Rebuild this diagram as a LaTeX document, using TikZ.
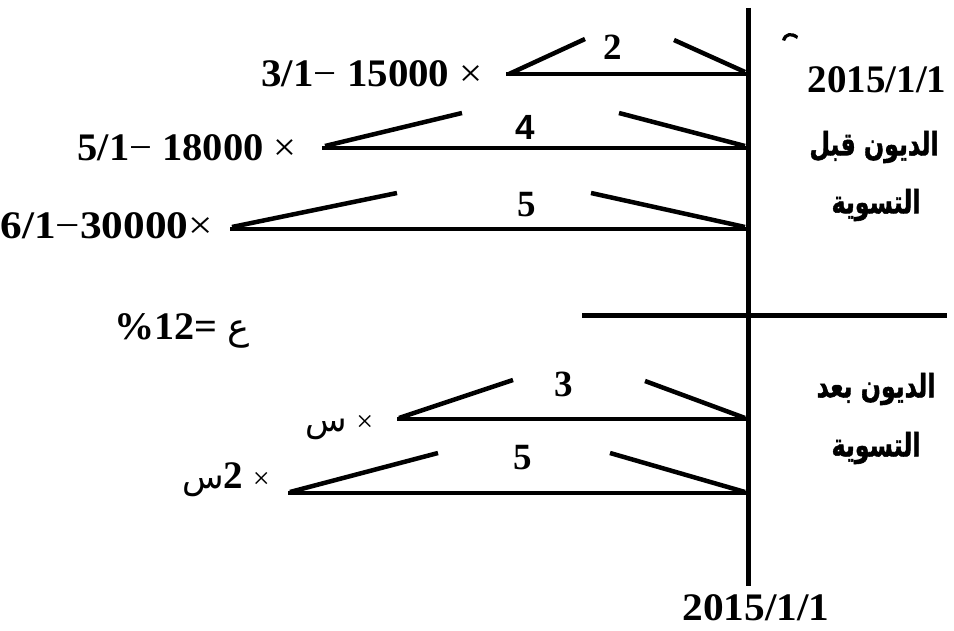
\documentclass[tikz,border=0pt]{standalone}
\usepackage{fontspec}
\setmainfont{Liberation Serif}
\newfontfamily\sansbf{Liberation Sans}
\newfontfamily\arabicfont[Script=Arabic]{DejaVu Sans}
\newfontfamily\arabicheavy[Script=Arabic, FakeBold=1.6]{DejaVu Sans Bold}
\TeXXeTstate=1
\newcommand{\arcap}[1]{\scalebox{0.74}[1]{\beginR #1\endR}}
\begin{document}
\begin{tikzpicture}[x=1pt,y=-1pt]
\tikzset{
  ln/.style={line width=4.5pt},
  axis/.style={line width=5pt},
  num/.style={font=\bfseries\fontsize{37}{40}\selectfont, inner sep=0pt},
  lab/.style={font=\bfseries\fontsize{39}{42}\selectfont, inner sep=0pt},
  ar/.style={font=\arabicheavy\fontsize{32}{34}\selectfont, inner sep=0pt},
}
\useasboundingbox (0,0) rectangle (954,631);

% axes
\coordinate (vt) at (748,8);
\coordinate (vb) at (748,586);
\draw[axis] (vt) -- (vb);
\coordinate (hl) at (582,316);
\coordinate (hr) at (947,316);
\draw[axis] (hl) -- (hr);

% row 1
\coordinate (a1) at (506,74); \coordinate (b1) at (748,74);
\coordinate (c1) at (585,39); \coordinate (d1) at (674,40); \coordinate (e1) at (745,72);
\draw[ln] (a1) -- (b1);
\draw[ln] (509,74) -- (c1);
\draw[ln] (d1) -- (e1);
\node[num] (n1) at (613,47) {2};

% row 2
\coordinate (a2) at (322,148); \coordinate (b2) at (748,148);
\coordinate (c2) at (462,113); \coordinate (d2) at (619,113); \coordinate (e2) at (745,146);
\draw[ln] (a2) -- (b2);
\draw[ln] (325,146) -- (c2);
\draw[ln] (d2) -- (e2);
\node[font=\sansbf\bfseries\fontsize{35}{40}\selectfont, inner sep=0pt] (n2) at (525,127) {4};

% row 3
\coordinate (a3) at (230,229); \coordinate (b3) at (748,229);
\coordinate (c3) at (397,193); \coordinate (d3) at (591,193); \coordinate (e3) at (745,227);
\draw[ln] (a3) -- (b3);
\draw[ln] (232,227) -- (c3);
\draw[ln] (d3) -- (e3);
\node[num] (n3) at (527,205) {5};

% row 4
\coordinate (a4) at (397,419); \coordinate (b4) at (748,419);
\coordinate (c4) at (513,380); \coordinate (d4) at (645,381); \coordinate (e4) at (745,418);
\draw[ln] (a4) -- (b4);
\draw[ln] (399,418) -- (c4);
\draw[ln] (d4) -- (e4);
\node[num] (n4) at (564,384) {3};

% row 5
\coordinate (a5) at (288,493); \coordinate (b5) at (748,493);
\coordinate (c5) at (438,453); \coordinate (d5) at (610,453); \coordinate (e5) at (745,492);
\draw[ln] (a5) -- (b5);
\draw[ln] (290,492) -- (c5);
\draw[ln] (d5) -- (e5);
\node[num] (n5) at (523,458) {5};

% small mark at top
\fill (782,40) .. controls (784,32) and (792,31) .. (798,36) -- (797,39) .. controls (791,35) and (787,35) .. (785,41) -- cycle;

% left labels
\node[lab, anchor=base east] (l1) at (483,87) {\scalebox{1.05}[1]{3/1{\mdseries−} 15000 {\mdseries ×}}};
\node[lab, anchor=base east] (l2) at (297,161) {\scalebox{1.04}[1]{5/1{\mdseries−} 18000 {\mdseries ×}}};
\node[lab, anchor=base east] (l3) at (213,239) {\scalebox{1.11}[1]{6/1{\mdseries−}30000{\mdseries ×}}};
\node[lab, anchor=base west] (rate) at (114,340) {\scalebox{1.03}[1]{\%12= {\arabicfont\mdseries\fontsize{36}{38}\selectfont ع}}};
\node[lab, anchor=base west] (x1) at (305,431) {{\arabicfont\mdseries\fontsize{34}{36}\selectfont س} {\mdseries\fontsize{30}{32}\selectfont ×}};
\node[lab, anchor=base west] (x2) at (182,488) {{\arabicfont\mdseries\fontsize{34}{36}\selectfont س}2 {\mdseries\fontsize{30}{32}\selectfont ×}};

% dates
\node[lab, anchor=base] (d1t) at (877,93) {2015/1/1};
\node[lab, anchor=base] (d2t) at (756,620) {\scalebox{1.06}[1]{2015/1/1}};

% arabic captions
\node[ar] (t1) at (874,147) {\arcap{الديون قبل}};
\node[ar] (t2) at (876,205) {\arcap{التسوية}};
\node[ar] (t3) at (876,389) {\arcap{الديون بعد}};
\node[ar] (t4) at (876,448) {\arcap{التسوية}};
\end{tikzpicture}
\end{document}
